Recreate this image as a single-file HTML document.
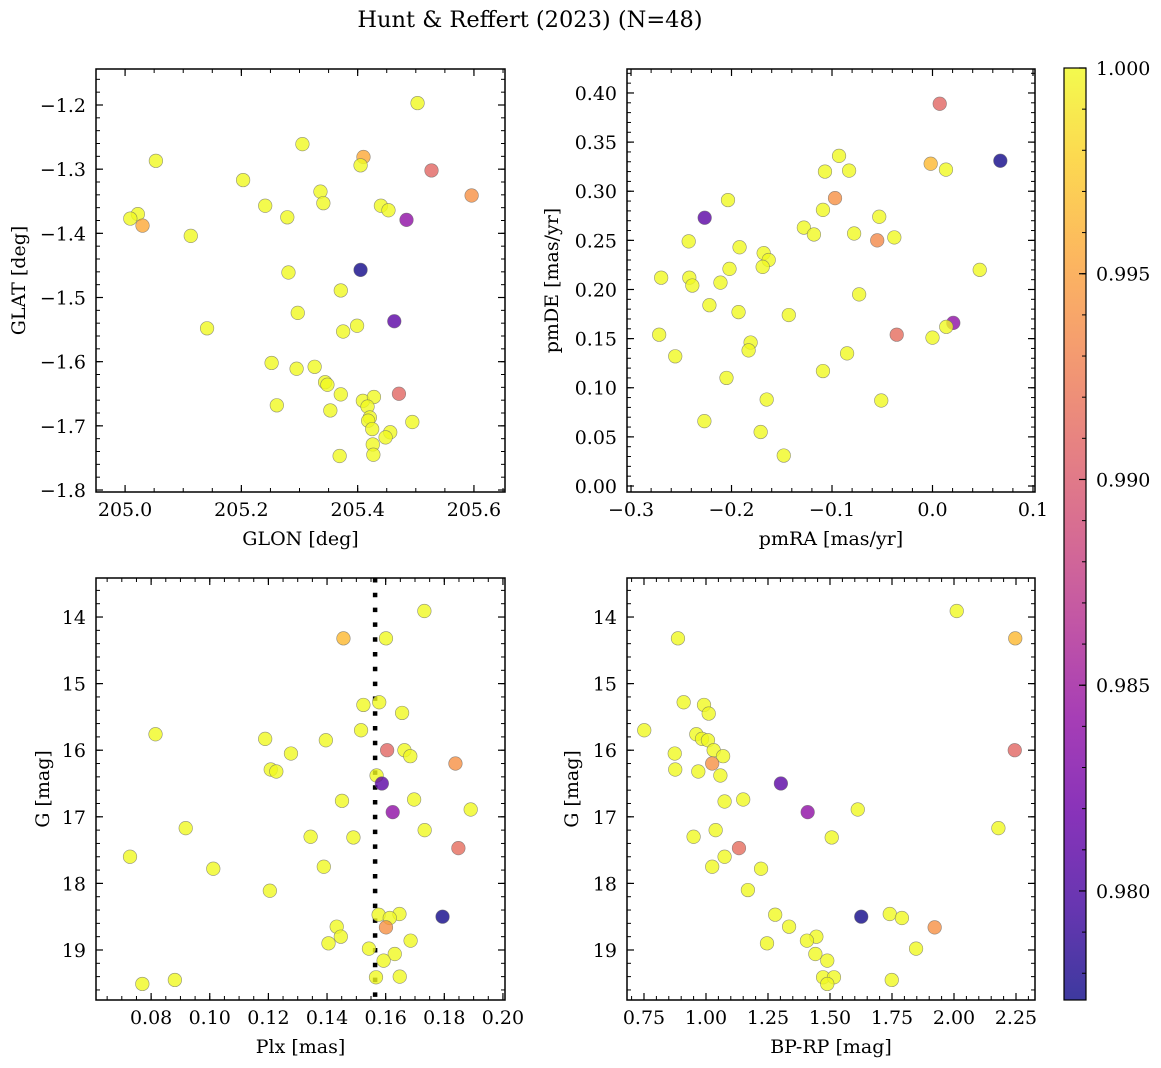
<!DOCTYPE html>
<html><head><meta charset="utf-8"><title>Hunt & Reffert (2023)</title>
<style>
html,body{margin:0;padding:0;background:#fff;}
svg{display:block;font-family:"DejaVu Serif","Liberation Serif",serif;}
</style></head>
<body>
<svg id="fig" width="1161" height="1068" viewBox="0 0 1161 1068" xmlns="http://www.w3.org/2000/svg">
<text x="530" y="27" font-size="22.5" text-anchor="middle">Hunt &amp; Reffert (2023) (N=48)</text>
</svg>
<script>
// ---- Panel 1: GLON vs GLAT ----
const p1Glon = [205.503,205.305,205.410,205.405,205.527,205.053,205.203,205.596,205.336,205.341,205.241,205.440,205.453,205.279,205.022,205.009,205.030,205.484,205.113,205.405,205.281,205.371,205.463,205.297,205.399,205.375,205.141,205.252,205.295,205.326,205.344,205.348,205.371,205.471,205.409,205.428,205.417,205.261,205.353,205.494,205.421,205.418,205.425,205.456,205.448,205.426,205.427,205.369];
const p1Glat = [-1.197,-1.261,-1.281,-1.294,-1.302,-1.287,-1.317,-1.341,-1.335,-1.353,-1.357,-1.357,-1.364,-1.375,-1.370,-1.377,-1.388,-1.379,-1.404,-1.457,-1.461,-1.489,-1.537,-1.524,-1.544,-1.553,-1.548,-1.602,-1.611,-1.608,-1.632,-1.636,-1.651,-1.650,-1.661,-1.655,-1.670,-1.668,-1.676,-1.694,-1.687,-1.692,-1.705,-1.710,-1.718,-1.729,-1.745,-1.747];
const p1Prob = [1,1,0.9955,1,0.991,1,1,0.994,1,1,1,1,1,1,1,1,0.9955,0.984,1,0.9775,1,1,0.981,1,1,1,1,1,1,1,1,1,1,0.991,1,1,1,1,1,1,1,1,1,1,1,1,1,1];
// ---- Panel 2: pmRA vs pmDE ----
const p2PmRA = [0.0072,0.0675,-0.0018,0.0134,-0.093,-0.107,-0.083,-0.097,-0.2035,-0.109,-0.053,-0.2267,-0.128,-0.118,-0.078,-0.055,-0.038,-0.2426,-0.192,-0.168,-0.163,-0.169,-0.202,0.047,-0.270,-0.242,-0.239,-0.211,-0.073,-0.222,-0.193,-0.143,0.0207,0.0137,-0.0356,0.0,-0.272,-0.181,-0.183,-0.256,-0.085,-0.109,-0.205,-0.165,-0.051,-0.227,-0.171,-0.148];
const p2PmDE = [0.389,0.331,0.328,0.322,0.336,0.320,0.321,0.293,0.291,0.281,0.274,0.273,0.263,0.256,0.257,0.250,0.253,0.249,0.243,0.237,0.230,0.223,0.221,0.220,0.212,0.212,0.204,0.207,0.195,0.184,0.177,0.174,0.166,0.162,0.154,0.151,0.154,0.146,0.138,0.132,0.135,0.117,0.110,0.088,0.087,0.066,0.055,0.031];
const p2Prob = [0.991,0.9775,0.9965,1,1,1,1,0.994,1,1,1,0.981,1,1,1,0.9935,1,1,1,1,1,1,1,1,1,1,1,1,1,1,1,1,0.984,1,0.9915,1,1,1,1,1,1,1,1,1,1,1,1,1];
// ---- Panel 3: Plx vs G ----
const p3Plx = [0.1732,0.1456,0.1601,0.1524,0.1578,0.1656,0.0815,0.1189,0.1396,0.1516,0.1605,0.1664,0.1684,0.1277,0.1838,0.1208,0.1227,0.1569,0.1587,0.1697,0.1451,0.1624,0.1890,0.0918,0.1733,0.1344,0.1490,0.1848,0.0728,0.1012,0.1389,0.1205,0.1576,0.1647,0.1614,0.1794,0.1601,0.1433,0.1447,0.1405,0.1685,0.1543,0.1631,0.1593,0.1567,0.1648,0.0881,0.0770];
const p3G = [13.91,14.32,14.32,15.32,15.28,15.44,15.76,15.83,15.85,15.70,16.00,16.00,16.09,16.05,16.20,16.29,16.32,16.38,16.50,16.74,16.76,16.93,16.89,17.17,17.20,17.30,17.31,17.47,17.60,17.78,17.75,18.11,18.47,18.46,18.52,18.50,18.66,18.65,18.80,18.90,18.86,18.98,19.06,19.16,19.41,19.40,19.45,19.51];
const p3Prob = [1,0.9965,1,1,1,1,1,1,1,1,0.991,1,1,1,0.994,1,1,1,0.981,1,1,0.984,1,1,1,1,1,0.9915,1,1,1,1,1,1,1,0.9775,0.994,1,1,1,1,1,1,1,1,1,1,1];
const plxLine = 0.1564;
// ---- Panel 4: BP-RP vs G ----
const p4BpRp = [2.011,2.247,0.887,0.910,0.992,1.011,0.751,0.961,0.984,1.008,1.031,2.245,1.069,0.874,1.025,0.876,0.969,1.058,1.302,1.075,1.150,1.410,1.612,2.179,1.039,0.950,1.507,1.133,1.075,1.025,1.222,1.169,1.279,1.741,1.790,1.626,1.922,1.335,1.445,1.407,1.246,1.847,1.441,1.489,1.472,1.516,1.489,1.749];
const p4G = [13.91,14.32,14.32,15.28,15.32,15.45,15.70,15.76,15.83,15.85,16.00,16.00,16.09,16.05,16.20,16.29,16.32,16.38,16.50,16.77,16.74,16.93,16.89,17.17,17.20,17.30,17.31,17.47,17.60,17.75,17.78,18.10,18.47,18.46,18.52,18.50,18.66,18.65,18.80,18.86,18.90,18.98,19.06,19.16,19.41,19.41,19.51,19.45];
const p4Prob = [1,0.9965,1,1,1,1,1,1,1,1,1,0.991,1,1,0.994,1,1,1,0.981,1,1,0.984,1,1,1,1,1,0.9915,1,1,1,1,1,1,1,0.9775,0.994,1,1,1,1,1,1,1,1,1,1,1];
// ---- Colorbar ----
const cbTicks = [0.980,0.985,0.990,0.995,1.000];
const cbMin = 0.97735, cbMax = 1.0;

const NS = "http://www.w3.org/2000/svg";
const svg = document.getElementById('fig');
function mk(tag, attrs, parent) {
  const e = document.createElementNS(NS, tag);
  for (const k in attrs) e.setAttribute(k, attrs[k]);
  (parent || svg).appendChild(e);
  return e;
}
const stops = [[0,[13,8,135]],[0.1,[65,4,157]],[0.2,[106,0,168]],[0.3,[143,13,164]],[0.4,[177,42,144]],[0.5,[204,71,120]],[0.6,[225,100,98]],[0.7,[242,132,75]],[0.8,[252,166,54]],[0.9,[252,206,37]],[1,[240,249,33]]];
function plasma(t) {
  t = Math.max(0, Math.min(1, t));
  for (let i = 1; i < stops.length; i++) {
    if (t <= stops[i][0]) {
      const a = stops[i-1], b = stops[i], f = (t - a[0]) / (b[0] - a[0]);
      const c = a[1].map((v, j) => Math.round(v + (b[1][j] - v) * f));
      return 'rgb(' + c.join(',') + ')';
    }
  }
  return 'rgb(240,249,33)';
}
function fmtMinus(s) { return s.replace('-', '\u2212'); }
const FS = 19;

function panel(c) {
  const g = mk('g', {});
  
  
  const xs = v => c.left + (v - c.xmin) / (c.xmax - c.xmin) * c.w;
  const ys = v => c.top + (v - c.yTop) / (c.yBot - c.yTop) * c.h;
  const B = c.top + c.h, R = c.left + c.w;
  const lo = Math.min(c.xmin, c.xmax), hi = Math.max(c.xmin, c.xmax);
  for (let k = Math.ceil(lo / c.xMinor - 1e-6); k * c.xMinor <= hi + 1e-9; k++) {
    const x = xs(k * c.xMinor);
    mk('line', {x1:x, y1:B, x2:x, y2:B-4, stroke:'#000', 'stroke-width':1}, g);
    mk('line', {x1:x, y1:c.top, x2:x, y2:c.top+4, stroke:'#000', 'stroke-width':1}, g);
  }
  const ylo = Math.min(c.yTop, c.yBot), yhi = Math.max(c.yTop, c.yBot);
  for (let k = Math.ceil(ylo / c.yMinor - 1e-6); k * c.yMinor <= yhi + 1e-9; k++) {
    const y = ys(k * c.yMinor);
    mk('line', {x1:c.left, y1:y, x2:c.left+4, y2:y, stroke:'#000', 'stroke-width':1}, g);
    mk('line', {x1:R, y1:y, x2:R-4, y2:y, stroke:'#000', 'stroke-width':1}, g);
  }
  c.xTicks.forEach(v => {
    const x = xs(v);
    mk('line', {x1:x, y1:B, x2:x, y2:B-7, stroke:'#000', 'stroke-width':1.2}, g);
    mk('line', {x1:x, y1:c.top, x2:x, y2:c.top+7, stroke:'#000', 'stroke-width':1.2}, g);
    const t = mk('text', {x:x, y:B+24, 'font-size':FS, 'text-anchor':'middle'}, g);
    
    
    t.textContent = fmtMinus(v.toFixed(c.xDec));
  });
  c.yTicks.forEach(v => {
    const y = ys(v);
    mk('line', {x1:c.left, y1:y, x2:c.left+7, y2:y, stroke:'#000', 'stroke-width':1.2}, g);
    mk('line', {x1:R, y1:y, x2:R-7, y2:y, stroke:'#000', 'stroke-width':1.2}, g);
    const t = mk('text', {x:c.left-10, y:y+7, 'font-size':FS, 'text-anchor':'end'}, g);
    
    
    t.textContent = fmtMinus(v.toFixed(c.yDec));
  });
  const cp = mk('clipPath', {id: c.name + '-clip'}, g);
  mk('rect', {x:c.left, y:c.top, width:c.w, height:c.h}, cp);
  const pg = mk('g', {'clip-path': 'url(#' + c.name + '-clip)'}, g);
  if (c.vline !== undefined) {
    const vl = mk('line', {x1:xs(c.vline), y1:c.top, x2:xs(c.vline), y2:B, stroke:'#000', 'stroke-width':4.5, 'stroke-dasharray':'4.5 10.3'}, pg);
    
    
  }
  for (let i = 0; i < c.xv.length; i++) {
    const p = mk('circle', {cx:xs(c.xv[i]), cy:ys(c.yv[i]), r:6.8, fill:plasma((c.pv[i]-cbMin)/(cbMax-cbMin)), 'fill-opacity':0.8, stroke:'#666', 'stroke-opacity':0.7, 'stroke-width':0.6}, pg);
    
    
  }
  const fr = mk('rect', {x:c.left, y:c.top, width:c.w, height:c.h, fill:'none', stroke:'#000', 'stroke-width':1.5}, g);
  
  
  const xl = mk('text', {x:c.left + c.w/2, y:B+53, 'font-size':FS, 'text-anchor':'middle'}, g);
  
  
  xl.textContent = c.xlabel;
  const yl = mk('text', {x:0, y:0, 'font-size':FS, 'text-anchor':'middle', transform:'translate(' + (c.ylabX+7) + ',' + (c.top + c.h/2) + ') rotate(-90)'}, g);
  
  
  yl.textContent = c.ylabel;
}

panel({name:'glon-glat-panel', left:96, top:69, w:409, h:423, xmin:204.95, xmax:205.6534, yTop:-1.1439, yBot:-1.8031,
  xTicks:[205.0,205.2,205.4,205.6], xMinor:0.05, xDec:1, yTicks:[-1.2,-1.3,-1.4,-1.5,-1.6,-1.7,-1.8], yMinor:0.02, yDec:1,
  xv:p1Glon, yv:p1Glat, pv:p1Prob, xlabel:'GLON [deg]', ylabel:'GLAT [deg]', ylabX:18});
panel({name:'pm-panel', left:627, top:69, w:408, h:423, xmin:-0.304, xmax:0.102, yTop:0.4244, yBot:-0.0061,
  xTicks:[-0.3,-0.2,-0.1,0.0,0.1], xMinor:0.02, xDec:1, yTicks:[0,0.05,0.1,0.15,0.2,0.25,0.3,0.35,0.4], yMinor:0.01, yDec:2,
  xv:p2PmRA, yv:p2PmDE, pv:p2Prob, xlabel:'pmRA [mas/yr]', ylabel:'pmDE [mas/yr]', ylabX:551});
panel({name:'plx-g-panel', left:96, top:578, w:409, h:422, xmin:0.0612, xmax:0.2007, yTop:13.414, yBot:19.751,
  xTicks:[0.08,0.10,0.12,0.14,0.16,0.18,0.20], xMinor:0.005, xDec:2, yTicks:[14,15,16,17,18,19], yMinor:0.2, yDec:0,
  xv:p3Plx, yv:p3G, pv:p3Prob, vline:plxLine, xlabel:'Plx [mas]', ylabel:'G [mag]', ylabX:42});
panel({name:'cmd-panel', left:627, top:578, w:408, h:422, xmin:0.6815, xmax:2.3266, yTop:13.414, yBot:19.751,
  xTicks:[0.75,1.0,1.25,1.5,1.75,2.0,2.25], xMinor:0.05, xDec:2, yTicks:[14,15,16,17,18,19], yMinor:0.2, yDec:0,
  xv:p4BpRp, yv:p4G, pv:p4Prob, xlabel:'BP-RP [mag]', ylabel:'G [mag]', ylabX:571});

const cb = mk('g', {});


const cbL = 1064, cbT = 68, cbW = 22, cbH = 932;
const grad = mk('linearGradient', {id:'cbgrad', x1:0, y1:1, x2:0, y2:0}, cb);
for (let i = 0; i <= 20; i++) mk('stop', {offset:i/20, 'stop-color':plasma(i/20), 'stop-opacity':0.8}, grad);
mk('rect', {x:cbL, y:cbT, width:cbW, height:cbH, fill:'url(#cbgrad)'}, cb);
const cy = v => cbT + (cbMax - v) / (cbMax - cbMin) * cbH;
for (let k = 978; k <= 1000; k++) {
  const y = cy(k / 1000);
  mk('line', {x1:cbL+cbW, y1:y, x2:cbL+cbW-4, y2:y, stroke:'#000', 'stroke-width':1}, cb);
}
cbTicks.forEach(v => {
  const y = cy(v);
  mk('line', {x1:cbL+cbW, y1:y, x2:cbL+cbW-7, y2:y, stroke:'#000', 'stroke-width':1.2}, cb);
  const t = mk('text', {x:cbL+cbW+10, y:y+7, 'font-size':FS}, cb);
  
  
  t.textContent = v.toFixed(3);
});
mk('rect', {x:cbL, y:cbT, width:cbW, height:cbH, fill:'none', stroke:'#000', 'stroke-width':1.2}, cb);
</script>
</body></html>
